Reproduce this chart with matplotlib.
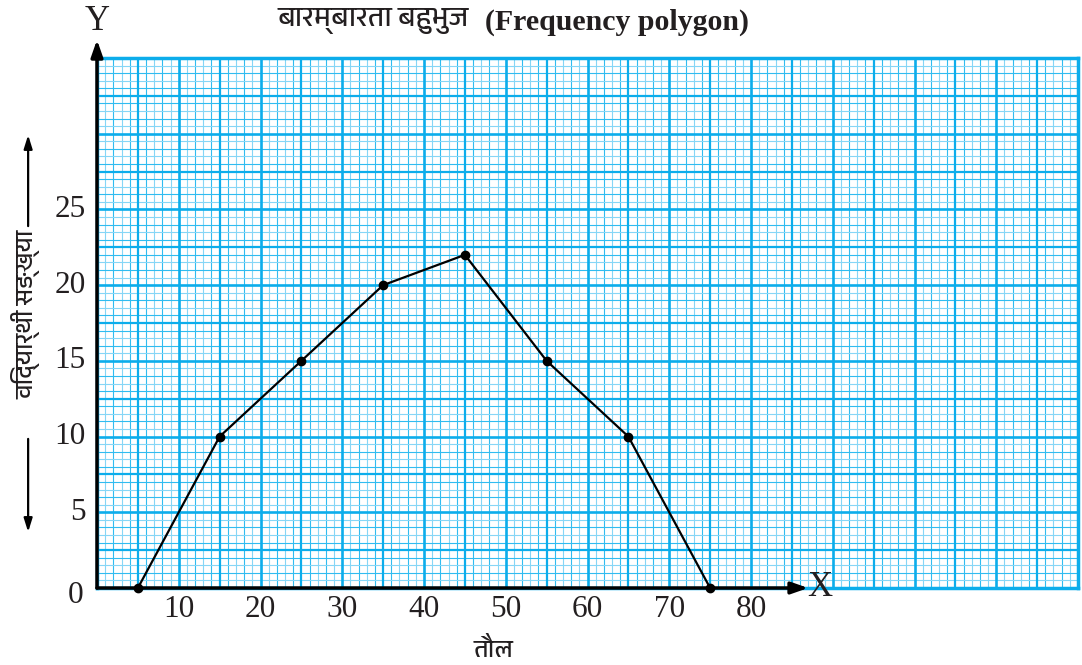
import matplotlib
matplotlib.use('Agg')
import matplotlib.pyplot as plt
import numpy as np
from matplotlib import font_manager

# Frequency polygon data (mid-values of weight classes vs number of students)
weights = [5, 15, 25, 35, 45, 55, 65, 75]
students = [0, 10, 15, 20, 22, 15, 10, 0]
xticks = [10, 20, 30, 40, 50, 60, 70, 80]
yticks = [5, 10, 15, 20, 25]

title_np = 'बारम्बारता बहुभुज'
title_en = '(Frequency polygon)'
xlabel = 'तौल'
ylabel = 'विद्यार्थी सङ्ख्या'

serif = 'Liberation Serif'
deva = [f.name for f in font_manager.fontManager.ttflist if 'Devanagari' in f.name]
deva_family = (deva[:1] + ['Noto Sans', 'DejaVu Sans'])

fig = plt.figure(figsize=(10.82, 6.65), dpi=100)
ax = fig.add_axes([97 / 1082, 77 / 665, 981 / 1082, 530 / 665])
ax.set_xlim(0, 120)
ax.set_ylim(0, 35)

# graph paper
light = '#86d6f6'
mid = '#30bcf0'
strong = '#0cadeb'
for xv in np.arange(0, 121, 1):
    if xv % 5 == 0:
        ax.axvline(xv, color=strong, lw=1.9 if xv % 10 == 0 else 1.6, zorder=1)
    elif xv % 2 == 0:
        ax.axvline(xv, color=mid, lw=0.8, zorder=0.5)
    else:
        ax.axvline(xv, color=light, lw=0.8, zorder=0.5)
for yv in np.arange(0, 35.01, 0.5):
    if yv % 2.5 == 0:
        ax.axhline(yv, color=strong, lw=1.9 if yv % 5 == 0 else 1.6, zorder=1)
    elif yv % 1 == 0:
        ax.axhline(yv, color=mid, lw=0.8, zorder=0.5)
    else:
        ax.axhline(yv, color=light, lw=0.8, zorder=0.5)
for s in ax.spines.values():
    s.set_color(strong)
    s.set_linewidth(2.5)
ax.set_xticks([])
ax.set_yticks([])

# polygon
ax.plot(weights, students, color='black', lw=1.6, marker='o', markersize=6, zorder=5,
        clip_on=False)

# axes with arrows
ax.annotate('', xy=(87, 0), xytext=(0, 0), xycoords='data',
            arrowprops=dict(arrowstyle='-|>,head_length=1.0,head_width=0.35', color='black',
                            lw=2.5, shrinkA=0, shrinkB=0), annotation_clip=False, zorder=6)
ax.annotate('', xy=(0, 36.2), xytext=(0, 0), xycoords='data',
            arrowprops=dict(arrowstyle='-|>,head_length=1.0,head_width=0.35', color='black',
                            lw=2.5, shrinkA=0, shrinkB=0), annotation_clip=False, zorder=6)
ax.text(88.4, 0, 'X', fontsize=25, family=serif, ha='center', va='center', clip_on=False,
        color='#231f20')
ax.text(0, 37.4, 'Y', fontsize=25, family=serif, ha='center', va='center', clip_on=False,
        color='#231f20')

# tick labels
for xv in xticks:
    ax.text(xv, -1.45, str(xv), fontsize=22.5, family=serif, ha='center', va='center',
            color='#231f20')
for yv in yticks:
    ax.text(-1.4, yv, str(yv), fontsize=22.5, family=serif, ha='right', va='center',
            color='#231f20')
ax.text(-1.7, -0.5, '0', fontsize=22.5, family=serif, ha='right', va='center', color='#231f20')

# titles and labels
fig.text(0.345, 0.968, title_np, fontsize=20.5, family=deva_family, ha='center', va='center',
         color='#231f20')
fig.text(0.570, 0.966, title_en, fontsize=21.5, family=serif, weight='bold', ha='center',
         va='center', color='#231f20')
fig.text(0.456, 0.024, xlabel, fontsize=18, family=deva_family, ha='center', va='center',
         color='#231f20')
fig.text(0.024, 0.528, ylabel, fontsize=17.5, family=deva_family, rotation=90, ha='center',
         va='center', color='#231f20')
for start, end in [((0.026, 0.66), (0.026, 0.797)), ((0.026, 0.34), (0.026, 0.2))]:
    ax.annotate('', xy=end, xytext=start, xycoords='figure fraction',
                textcoords='figure fraction', annotation_clip=False,
                arrowprops=dict(arrowstyle='-|>,head_length=0.8,head_width=0.25',
                                color='black', lw=1.6, shrinkA=0, shrinkB=0))

fig.savefig('out.png', dpi=100)
